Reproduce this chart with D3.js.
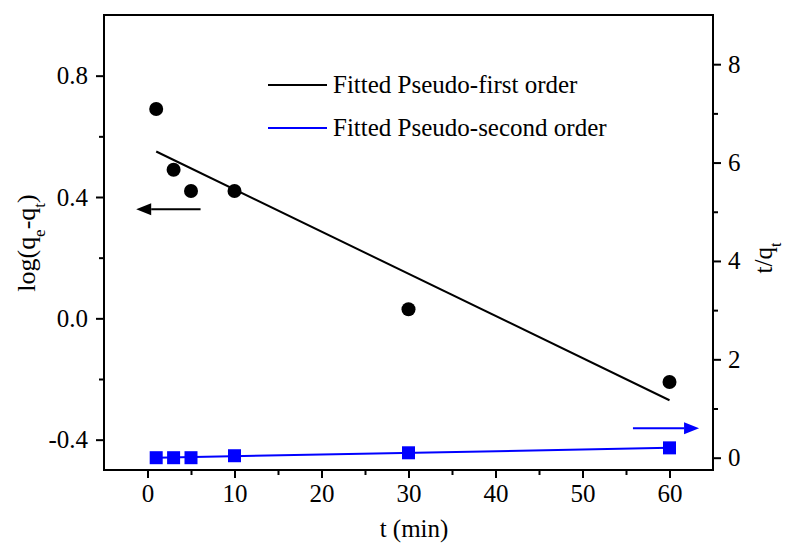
<!DOCTYPE html>
<html>
<head>
<meta charset="utf-8">
<script src="https://cdn.jsdelivr.net/npm/d3@7"></script>
<style>
  html, body { margin: 0; padding: 0; background: #fff; }
  svg { display: block; }
  text { font-family: "Liberation Serif", "Times New Roman", serif; fill: #000; }
</style>
</head>
<body>
<svg id="chart" width="787" height="551"></svg>
<script>
// Sampling times (min)
const time = [1, 3, 5, 10, 30, 60];
// Pseudo-first order: log(qe - qt)
const logDiff = [0.69, 0.49, 0.42, 0.42, 0.03, -0.21];
// Pseudo-second order: t/qt
const tOverQ = [0.0, 0.0, 0.0, 0.04, 0.1, 0.2];
// Fitted line end points
const fitFirstT = [1, 60];
const fitFirstY = [0.55, -0.27];
const fitSecondT = [1, 60];
const fitSecondY = [0.0, 0.2];
// Ticks
const xTicks = [0, 10, 20, 30, 40, 50, 60];
const xMinor = [5, 15, 25, 35, 45, 55];
const yLeftTicks = [-0.4, 0.0, 0.4, 0.8];
const yLeftMinor = [-0.2, 0.2, 0.6];
const yRightTicks = [0, 2, 4, 6, 8];
const yRightMinor = [1, 3, 5, 7];
const legendLabels = ["Fitted Pseudo-first order", "Fitted Pseudo-second order"];

const svg = d3.select("#chart");
const L = 104, R = 713, T = 15, B = 470;

const x = d3.scaleLinear().domain([-5, 65]).range([L, R]);
const yL = d3.scaleLinear().domain([-0.5, 1.0]).range([B, T]);
const yR = d3.scaleLinear().domain([-0.25, 9]).range([B, T]);

const blue = "#0000ff";
const fontSize = 25;
const serif = "'Liberation Serif', 'Times New Roman', serif";

// frame
svg.append("rect").attr("x", L).attr("y", T).attr("width", R - L).attr("height", B - T)
  .attr("fill", "none").attr("stroke", "#000").attr("stroke-width", 2);

// axes
function styleAxis(g) {
  g.attr("font-family", serif).attr("font-size", fontSize);
  g.select(".domain").remove();
  g.selectAll(".tick line").attr("stroke", "#000").attr("stroke-width", 2);
  g.selectAll(".tick text").attr("fill", "#000");
}
const xAxis = svg.append("g").attr("transform", `translate(0,${B})`)
  .call(d3.axisBottom(x).tickValues(xTicks).tickSize(8).tickPadding(6).tickFormat(d3.format("d")));
styleAxis(xAxis);
const xAxisMinor = svg.append("g").attr("transform", `translate(0,${B})`)
  .call(d3.axisBottom(x).tickValues(xMinor).tickSize(5).tickFormat(""));
styleAxis(xAxisMinor);

const yAxisL = svg.append("g").attr("transform", `translate(${L},0)`)
  .call(d3.axisLeft(yL).tickValues(yLeftTicks).tickSize(8).tickPadding(8)
    .tickFormat(d => d3.format(".1f")(d).replace("−", "-")));
styleAxis(yAxisL);
const yAxisLMinor = svg.append("g").attr("transform", `translate(${L},0)`)
  .call(d3.axisLeft(yL).tickValues(yLeftMinor).tickSize(5).tickFormat(""));
styleAxis(yAxisLMinor);

const yAxisR = svg.append("g").attr("transform", `translate(${R},0)`)
  .call(d3.axisRight(yR).tickValues(yRightTicks).tickSize(8).tickPadding(7).tickFormat(d3.format("d")));
styleAxis(yAxisR);
const yAxisRMinor = svg.append("g").attr("transform", `translate(${R},0)`)
  .call(d3.axisRight(yR).tickValues(yRightMinor).tickSize(5).tickFormat(""));
styleAxis(yAxisRMinor);

// axis titles
const leftTitle = svg.append("text")
  .attr("transform", `translate(35,243) rotate(-90)`)
  .attr("text-anchor", "middle").attr("font-family", serif).attr("font-size", 26);
leftTitle.append("tspan").text("log(q");
leftTitle.append("tspan").text("e").attr("baseline-shift", "sub").attr("font-size", 17);
leftTitle.append("tspan").text("-q");
leftTitle.append("tspan").text("t").attr("baseline-shift", "sub").attr("font-size", 17);
leftTitle.append("tspan").text(")");

const rightTitle = svg.append("text")
  .attr("transform", `translate(772,258) rotate(-90)`)
  .attr("text-anchor", "middle").attr("font-family", serif).attr("font-size", fontSize);
rightTitle.append("tspan").text("t/q");
rightTitle.append("tspan").text("t").attr("baseline-shift", "sub").attr("font-size", 16);

svg.append("text").attr("x", 414).attr("y", 537).attr("text-anchor", "middle")
  .attr("font-family", serif).attr("font-size", fontSize).text("t (min)");

// fitted lines
svg.append("line")
  .attr("x1", x(fitFirstT[0])).attr("y1", yL(fitFirstY[0]))
  .attr("x2", x(fitFirstT[1])).attr("y2", yL(fitFirstY[1]))
  .attr("stroke", "#000").attr("stroke-width", 2);
svg.append("line")
  .attr("x1", x(fitSecondT[0])).attr("y1", yR(fitSecondY[0]))
  .attr("x2", x(fitSecondT[1])).attr("y2", yR(fitSecondY[1]))
  .attr("stroke", blue).attr("stroke-width", 2);

// data points
svg.append("g").selectAll("circle").data(time).join("circle")
  .attr("cx", d => x(d)).attr("cy", (d, i) => yL(logDiff[i])).attr("r", 7).attr("fill", "#000");
svg.append("g").selectAll("rect").data(time).join("rect")
  .attr("x", d => x(d) - 6.5).attr("y", (d, i) => yR(tOverQ[i]) - 6.5)
  .attr("width", 13).attr("height", 13).attr("fill", blue);

// axis indicator arrows
function arrow(x1, x2, yy, color) {
  const dir = Math.sign(x2 - x1);
  const head = 15;
  svg.append("line").attr("x1", x1).attr("y1", yy).attr("x2", x2 - dir * head).attr("y2", yy)
    .attr("stroke", color).attr("stroke-width", 2);
  svg.append("path")
    .attr("d", `M${x2},${yy} L${x2 - dir * head},${yy - 6} L${x2 - dir * head},${yy + 6} Z`)
    .attr("fill", color);
}
arrow(x(6.1), x(-1.3), yL(0.36), "#000");
arrow(x(55.8), x(63.4), yR(0.6), blue);

// legend
const legend = svg.append("g");
[["#000", 85], [blue, 128]].forEach(([c, yy], i) => {
  legend.append("line").attr("x1", 268).attr("x2", 327).attr("y1", yy).attr("y2", yy)
    .attr("stroke", c).attr("stroke-width", 2);
  legend.append("text").attr("x", 333).attr("y", yy + 8)
    .attr("font-family", serif).attr("font-size", fontSize)
    .text(legendLabels[i]);
});
</script>
</body>
</html>
